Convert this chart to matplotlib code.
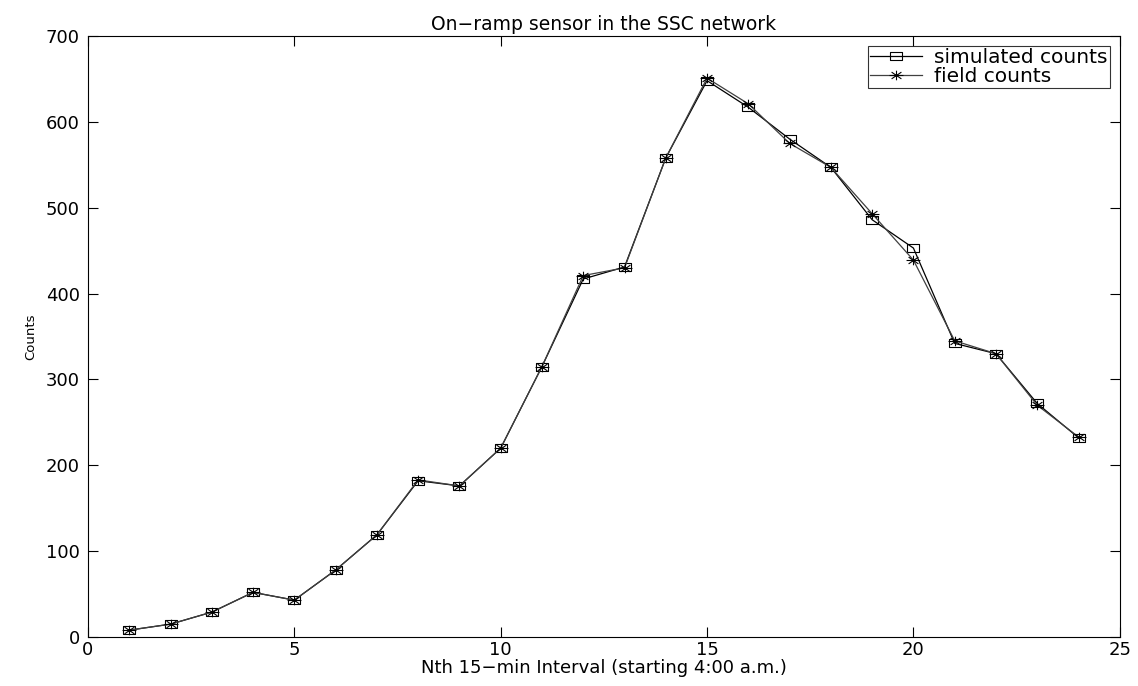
import numpy as np
import matplotlib.pyplot as plt
from matplotlib.path import Path

interval = list(range(1, 25))
simulated = [8, 15, 29, 52, 43, 78, 119, 182, 176, 220, 315, 417,
             431, 558, 648, 617, 580, 547, 486, 453, 342, 330, 272, 232]
field = [8, 15, 29, 52, 43, 78, 119, 183, 176, 220, 315, 421,
         430, 558, 651, 621, 575, 547, 493, 439, 345, 330, 270, 233]

plt.rcParams['font.family'] = ['DejaVu Sans']

# the original is stretched sideways, so markers are wider than tall
sx = 1.45
box = Path([(-sx, -1), (sx, -1), (sx, 1), (-sx, 1), (-sx, -1)],
           [Path.MOVETO, Path.LINETO, Path.LINETO, Path.LINETO, Path.CLOSEPOLY])
verts, codes = [], []
for a in np.arange(0, np.pi, np.pi / 4):
    verts += [(-sx * np.cos(a), -np.sin(a)), (sx * np.cos(a), np.sin(a))]
    codes += [Path.MOVETO, Path.LINETO]
star = Path(verts, codes)

fig = plt.figure(figsize=(11.38, 6.86), dpi=100)
ax = fig.add_axes([0.0773, 0.0714, 0.9067, 0.8761])

ax.plot(interval, simulated, color='black', lw=0.9, marker=box, ms=9,
        mfc='none', mec='black', mew=0.8, label='simulated counts')
ax.plot(interval, field, color='0.25', lw=0.9, marker=star, ms=10,
        mec='black', mew=0.8, label='field counts')

ax.set_xlim(0, 25)
ax.set_ylim(0, 700)
ax.set_xticks([0, 5, 10, 15, 20, 25])
ax.set_yticks(range(0, 701, 100))
ax.tick_params(direction='in', top=True, right=True, labelsize=13, length=7)
ax.tick_params(axis='x', pad=3)
ax.tick_params(axis='y', pad=6)
ax.set_xlabel('Nth 15\u2212min Interval (starting 4:00 a.m.)', fontsize=13, labelpad=0)
ax.set_ylabel('Counts', fontsize=9.5, labelpad=6)
ax.set_title('On\u2212ramp sensor in the SSC network', fontsize=13.5, pad=4)

leg = ax.legend(loc='upper right', fontsize=14.5, frameon=True, fancybox=False,
                edgecolor='black', borderaxespad=0.5, handlelength=2.6,
                borderpad=0.1, labelspacing=0.0, handletextpad=0.6)
leg.get_frame().set_linewidth(0.8)

fig.savefig('out.png', dpi=100)
